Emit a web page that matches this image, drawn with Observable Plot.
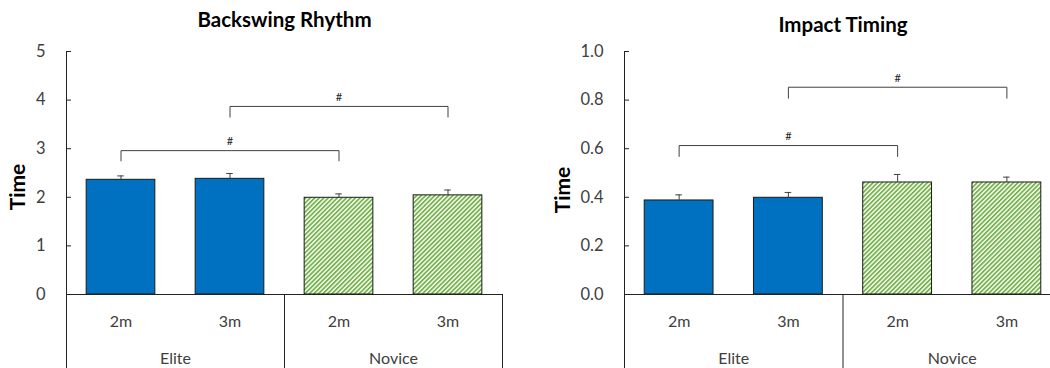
<!DOCTYPE html>
<html>
<head>
<meta charset="utf-8">
<script src="https://cdn.jsdelivr.net/npm/d3@7"></script>
<script src="https://cdn.jsdelivr.net/npm/@observablehq/plot@0.6"></script>
<style>
  html, body { margin: 0; padding: 0; background: #fff; overflow: hidden; }
  #wrap { position: relative; width: 1050px; height: 368px; overflow: hidden; background: #fff; }
  #left, #right { position: absolute; top: 0; }
  #left { left: 0; width: 525px; }
  #right { left: 525px; width: 540px; }
  svg { max-width: none !important; }
</style>
</head>
<body>
<div id="wrap"><div id="left"></div><div id="right"></div></div>
<script>
// ---- data ----
const categories = ["2m", "3m", "2m", "3m"];
const groups = ["Elite", "Elite", "Novice", "Novice"];
const groupNames = ["Elite", "Novice"];

const backswingValues = [2.36, 2.38, 1.99, 2.04];
const backswingErrors = [0.08, 0.11, 0.08, 0.11];
const backswingTicks = [0, 1, 2, 3, 4, 5];
const backswingBrackets = [
  {from: 0, to: 2, top: 2.96, low: 2.75},
  {from: 1, to: 3, top: 3.87, low: 3.65}
];

const impactValues = [0.387, 0.398, 0.461, 0.461];
const impactErrors = [0.023, 0.022, 0.033, 0.022];
const impactTicks = [0, 0.2, 0.4, 0.6, 0.8, 1.0];
const impactBrackets = [
  {from: 0, to: 2, top: 0.613, low: 0.568},
  {from: 1, to: 3, top: 0.853, low: 0.808}
];

const BLUE = "#0070C0";
const GREEN = "#74B44A";
const INK = "#404040";

function makeChart(opts) {
  const {values, errors, ticks, brackets, title, fmt, width, marginLeft, marginRight, titleDy, labelDx, labelDy, pid} = opts;
  const data = categories.map((c, i) => ({i, cat: c, group: groups[i], v: values[i], e: errors[i]}));
  const bracketPts = brackets.flatMap((b, k) => [
    {k, x: b.from + 0.5, y: b.low},
    {k, x: b.from + 0.5, y: b.top},
    {k, x: b.to + 0.5, y: b.top},
    {k, x: b.to + 0.5, y: b.low}
  ]);
  const groupData = groupNames.map((g, j) => ({g, x: j * 2 + 1}));
  const ymax = ticks[ticks.length - 1];

  const svg = Plot.plot({
    width, height: 368,
    marginLeft, marginRight, marginTop: 51, marginBottom: 74,
    style: {fontFamily: "Lato, 'Open Sans', sans-serif", fontSize: "16px", color: INK, background: "#fff", overflow: "visible", maxWidth: "none"},
    x: {type: "linear", domain: [0, 4], axis: null},
    y: {domain: [0, ymax], axis: null},
    marks: [
      // bars
      Plot.rectY(data.filter(d => d.group === "Elite"), {
        x1: d => d.i + 0.185, x2: d => d.i + 0.815, y: "v",
        fill: BLUE, stroke: "#1a1a1a", strokeWidth: 1
      }),
      Plot.rectY(data.filter(d => d.group === "Novice"), {
        x1: d => d.i + 0.185, x2: d => d.i + 0.815, y: "v",
        fill: `url(#${pid})`, stroke: "#1a1a1a", strokeWidth: 1
      }),
      // error bars
      Plot.ruleX(data, {x: d => d.i + 0.5, y1: "v", y2: d => d.v + d.e, stroke: INK, strokeWidth: 1}),
      Plot.ruleY(data, {y: d => d.v + d.e, x1: d => d.i + 0.47, x2: d => d.i + 0.53, stroke: INK, strokeWidth: 1}),
      // axes
      Plot.ruleX([0], {stroke: "#222", strokeWidth: 1}),
      Plot.ruleY([0], {stroke: "#222", strokeWidth: 1}),
      Plot.ruleY(ticks, {y: d => d, x1: 0, x2: 0, insetRight: -5, stroke: "#222", strokeWidth: 1}),
      Plot.ruleX([0, 2, 4], {x: d => d, y1: 0, y2: 0, insetBottom: -74, stroke: "#222", strokeWidth: 1}),
      Plot.axisY(ticks, {tickSize: 0, tickPadding: 21, tickFormat: fmt, fontSize: 16.5, fill: INK, label: null}),
      // category labels
      Plot.text(data, {x: d => d.i + 0.5, y: 0, text: "cat", dy: 27, fontSize: 16, fill: INK}),
      Plot.text(groupData, {x: "x", y: 0, text: "g", dy: 64, fontSize: 16, fill: INK}),
      // brackets
      Plot.line(bracketPts, {x: "x", y: "y", z: "k", stroke: INK, strokeWidth: 1, curve: "linear"}),
      Plot.text(brackets, {x: d => (d.from + d.to) / 2 + 0.5, y: "top", text: () => "#", dy: -9, fontSize: 11, fill: "#222"}),
      // title
      Plot.text([title], {frameAnchor: "top", lineAnchor: "middle", textAnchor: "middle", text: d => d, dy: titleDy, fontSize: 20.5, fontWeight: "bold", fill: "#000"}),
      // y label
      Plot.text(["Time"], {frameAnchor: "left", lineAnchor: "middle", textAnchor: "middle", text: d => d, rotate: -90, dx: labelDx, dy: labelDy, fontSize: 21, fontWeight: "bold", fill: "#000"})
    ]
  });

  const defs = d3.select(svg).insert("defs", ":first-child");
  const pat = defs.append("pattern")
    .attr("id", pid)
    .attr("patternUnits", "userSpaceOnUse")
    .attr("width", 3.2).attr("height", 3.2)
    .attr("patternTransform", "rotate(45)");
  pat.append("rect").attr("width", 3.2).attr("height", 3.2).attr("fill", "#fff");
  pat.append("rect").attr("x", 0).attr("width", 1.8).attr("height", 3.2).attr("fill", GREEN);
  return svg;
}

document.getElementById("left").appendChild(makeChart({
  values: backswingValues, errors: backswingErrors, ticks: backswingTicks, brackets: backswingBrackets,
  title: "Backswing Rhythm", fmt: d3.format("d"),
  width: 525, marginLeft: 66, marginRight: 23,
  titleDy: -31, labelDx: -48, labelDy: 14, pid: "hatchL"
}));

document.getElementById("right").appendChild(makeChart({
  values: impactValues, errors: impactErrors, ticks: impactTicks, brackets: impactBrackets,
  title: "Impact Timing", fmt: d3.format(".1f"),
  width: 540, marginLeft: 99, marginRight: 4,
  titleDy: -26, labelDx: -61, labelDy: 17, pid: "hatchR"
}));
</script>
</body>
</html>
